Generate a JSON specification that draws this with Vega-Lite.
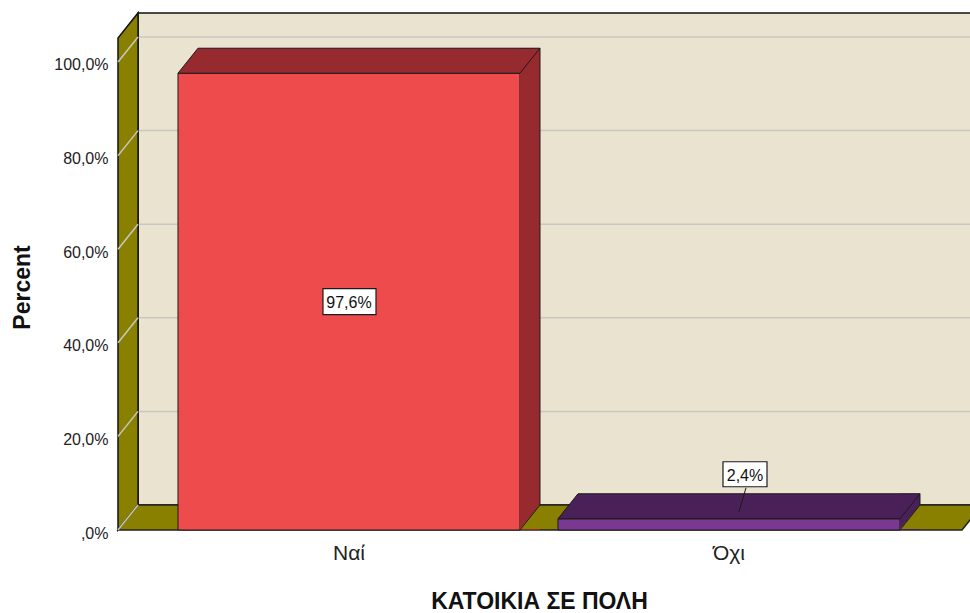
{
  "$schema": "https://vega.github.io/schema/vega-lite/v6.json",
  "width": 852,
  "height": 517,
  "autosize": {"type": "none"},
  "padding": {"left": 118, "top": 13, "right": 0, "bottom": 83},
  "background": "white",
  "config": {"view": {"stroke": null}, "font": "Liberation Sans"},
  "datasets": {
    "bars": [{"cat": "Ναί", "pct": 97.6}, {"cat": "Όχι", "pct": 2.4}],
    "ticks": [{"tick": 0}, {"tick": 20}, {"tick": 40}, {"tick": 60}, {"tick": 80}, {"tick": 100}]
  },
  "resolve": {"scale": {"x": "independent"}, "axis": {"x": "independent"}},
  "layer": [
    {
      "layer": [
        {
          "data": {"values": [{"w": 1}]},
          "mark": {"type": "rect", "fill": "#E9E3D0", "stroke": "#111111", "strokeWidth": 1.5, "xOffset": 20, "x2Offset": 60, "yOffset": -25},
          "encoding": {
            "x": {"datum": 0, "type": "quantitative", "scale": {"type": "linear", "domain": [0, 1], "nice": false, "zero": false}, "axis": null},
            "x2": {"datum": 1},
            "y": {
              "datum": 0, "type": "quantitative", "scale": {"domain": [0, 110.47], "nice": false, "zero": true},
              "axis": {
                "title": "Percent", "values": [0, 20, 40, 60, 80, 100],
                "labelExpr": "datum.value == 0 ? ',0%' : replace(format(datum.value, '.1f'), '.', ',') + '%'",
                "domain": false, "ticks": false, "grid": false,
                "labelFont": "Liberation Sans", "labelFontSize": 16, "labelColor": "#222222", "labelPadding": 10, "labelOffset": 3,
                "titleFont": "Liberation Sans", "titleFontSize": 23, "titleFontWeight": "bold", "titleColor": "#111111",
                "titleX": -89, "titleY": 274, "titleBaseline": "alphabetic", "titleAlign": "center", "titleAngle": -90
              }
            },
            "y2": {"datum": 110.47}
          }
        },
        {
          "data": {"name": "ticks"},
          "transform": [{"filter": "datum.tick > 0"}],
          "mark": {"type": "rule", "stroke": "#C8C8C2", "strokeWidth": 1.5, "xOffset": 20, "x2Offset": 60, "yOffset": -25},
          "encoding": {
            "x": {"datum": 0, "type": "quantitative", "axis": null},
            "x2": {"datum": 1},
            "y": {"field": "tick", "type": "quantitative"}
          }
        },
        {
          "data": {"values": [{"w": 1}]},
          "mark": {"type": "point", "shape": "M0,0 L0,-492 L20,-517 L20,-25 Z", "size": 4, "filled": true, "fill": "#8A8000", "stroke": "#111111", "strokeWidth": 1.5, "opacity": 1},
          "encoding": {
            "x": {"datum": 0, "type": "quantitative", "axis": null},
            "y": {"datum": 0, "type": "quantitative"}
          }
        },
        {
          "data": {"values": [{"w": 1}]},
          "mark": {"type": "point", "shape": "M0,0 L844,0 L864,-25 L20,-25 Z", "size": 4, "filled": true, "fill": "#8A8000", "stroke": "#222222", "strokeWidth": 1.5, "opacity": 1},
          "encoding": {
            "x": {"datum": 0, "type": "quantitative", "axis": null},
            "y": {"datum": 0, "type": "quantitative"}
          }
        },
        {
          "data": {"name": "ticks"},
          "mark": {"type": "rule", "stroke": "#C8C8C2", "strokeWidth": 1.5, "x2Offset": 20, "y2Offset": -25},
          "encoding": {
            "x": {"datum": 0, "type": "quantitative", "axis": null},
            "x2": {"datum": 0},
            "y": {"field": "tick", "type": "quantitative"},
            "y2": {"field": "tick"}
          }
        }
      ]
    },
    {
      "data": {"name": "bars"},
      "layer": [
        {
          "mark": {"type": "bar", "stroke": "#1B1B1B", "strokeWidth": 1},
          "encoding": {
            "x": {
              "field": "cat", "type": "nominal",
              "scale": {"type": "band", "domain": ["Ναί", "Όχι"], "paddingInner": 0.1, "paddingOuter": 0.17105, "align": 0.4615},
              "axis": {
                "orient": "bottom",
                "title": "ΚΑΤΟΙΚΙΑ ΣΕ ΠΟΛΗ", "domain": false, "ticks": false, "labelAngle": 0,
                "labelFont": "Liberation Sans", "labelFontSize": 21, "labelColor": "#222222", "labelPadding": 12,
                "titleFont": "Liberation Sans", "titleFontSize": 23, "titleFontWeight": "bold", "titleColor": "#111111",
                "titleX": 421, "titleY": 78, "titleBaseline": "alphabetic", "titleAlign": "center"
              }
            },
            "y": {
              "field": "pct", "type": "quantitative",
              "scale": {"domain": [0, 110.47], "nice": false, "zero": true},
              "axis": {
                "title": "Percent", "values": [0, 20, 40, 60, 80, 100],
                "labelExpr": "datum.value == 0 ? ',0%' : replace(format(datum.value, '.1f'), '.', ',') + '%'",
                "domain": false, "ticks": false, "grid": false,
                "labelFont": "Liberation Sans", "labelFontSize": 16, "labelColor": "#222222", "labelPadding": 10, "labelOffset": 3,
                "titleFont": "Liberation Sans", "titleFontSize": 23, "titleFontWeight": "bold", "titleColor": "#111111",
                "titleX": -89, "titleY": 274, "titleBaseline": "alphabetic", "titleAlign": "center", "titleAngle": -90
              }
            },
            "fill": {"condition": {"test": "datum.cat === 'Ναί'", "value": "#EE4B4D"}, "value": "#7B3890"}
          }
        },
        {
          "mark": {"type": "rule", "strokeWidth": 20, "strokeCap": "butt", "xOffset": 181, "yOffset": -25},
          "encoding": {
            "x": {"field": "cat", "type": "nominal"},
            "y": {"field": "pct", "type": "quantitative"},
            "y2": {"datum": 0},
            "stroke": {"condition": {"test": "datum.cat === 'Ναί'", "value": "#962A2E"}, "value": "#4A2058"}
          }
        },
        {
          "mark": {"type": "point", "shape": "M-171,0 L171,0 L191,-25 L-151,-25 Z", "size": 4, "filled": true, "stroke": "#1B1B1B", "strokeWidth": 1, "opacity": 1},
          "encoding": {
            "x": {"field": "cat", "type": "nominal"},
            "y": {"field": "pct", "type": "quantitative"},
            "fill": {"condition": {"test": "datum.cat === 'Ναί'", "value": "#962A2E"}, "value": "#4A2058"}
          }
        },
        {
          "mark": {"type": "point", "shape": "M171,-1 L191,-25 L191,-1 Z", "size": 4, "filled": true, "fill": "#8A8000", "strokeWidth": 0, "opacity": 1},
          "encoding": {
            "x": {"field": "cat", "type": "nominal"},
            "y": {"datum": 0, "type": "quantitative"}
          }
        },
        {
          "mark": {"type": "rule", "stroke": "#1B1B1B", "strokeWidth": 1, "xOffset": 191, "yOffset": -25, "y2Offset": -25},
          "encoding": {
            "x": {"field": "cat", "type": "nominal"},
            "y": {"field": "pct", "type": "quantitative"},
            "y2": {"datum": 0}
          }
        },
        {
          "mark": {"type": "point", "shape": "M171,0 L191,-25", "size": 4, "filled": false, "stroke": "#1B1B1B", "strokeWidth": 1, "opacity": 1},
          "encoding": {
            "x": {"field": "cat", "type": "nominal"},
            "y": {"datum": 0, "type": "quantitative"}
          }
        },
        {
          "transform": [{"filter": "datum.pct > 10"}, {"calculate": "datum.pct / 2", "as": "mid"}],
          "mark": {"type": "point", "shape": "M-26,-13 L27,-13 L27,13 L-26,13 Z", "size": 4, "filled": true, "fill": "white", "stroke": "#1B1B1B", "strokeWidth": 1.2, "opacity": 1},
          "encoding": {
            "x": {"field": "cat", "type": "nominal"},
            "y": {"field": "mid", "type": "quantitative"}
          }
        },
        {
          "transform": [{"filter": "datum.pct > 10"}, {"calculate": "datum.pct / 2", "as": "mid"}, {"calculate": "replace(format(datum.pct, '.1f'), '.', ',') + '%'", "as": "lbl"}],
          "mark": {"type": "text", "font": "Liberation Sans", "fontSize": 16, "color": "#111111", "baseline": "middle", "align": "center", "dy": 1},
          "encoding": {
            "x": {"field": "cat", "type": "nominal"},
            "y": {"field": "mid", "type": "quantitative"},
            "text": {"field": "lbl"}
          }
        },
        {
          "transform": [{"filter": "datum.pct <= 10"}],
          "mark": {"type": "point", "shape": "M-6,-57 L38,-57 L38,-32 L-6,-32 Z", "size": 4, "filled": true, "fill": "white", "stroke": "#1B1B1B", "strokeWidth": 1.2, "opacity": 1},
          "encoding": {
            "x": {"field": "cat", "type": "nominal"},
            "y": {"field": "pct", "type": "quantitative"}
          }
        },
        {
          "transform": [{"filter": "datum.pct <= 10"}],
          "mark": {"type": "point", "shape": "M17,-31 L10,-7", "size": 4, "filled": false, "stroke": "#1B1B1B", "strokeWidth": 1, "opacity": 1},
          "encoding": {
            "x": {"field": "cat", "type": "nominal"},
            "y": {"field": "pct", "type": "quantitative"}
          }
        },
        {
          "transform": [{"filter": "datum.pct <= 10"}, {"calculate": "replace(format(datum.pct, '.1f'), '.', ',') + '%'", "as": "lbl"}],
          "mark": {"type": "text", "font": "Liberation Sans", "fontSize": 16, "color": "#111111", "baseline": "middle", "align": "center", "xOffset": 16, "yOffset": -43},
          "encoding": {
            "x": {"field": "cat", "type": "nominal"},
            "y": {"field": "pct", "type": "quantitative"},
            "text": {"field": "lbl"}
          }
        }
      ]
    }
  ]
}
